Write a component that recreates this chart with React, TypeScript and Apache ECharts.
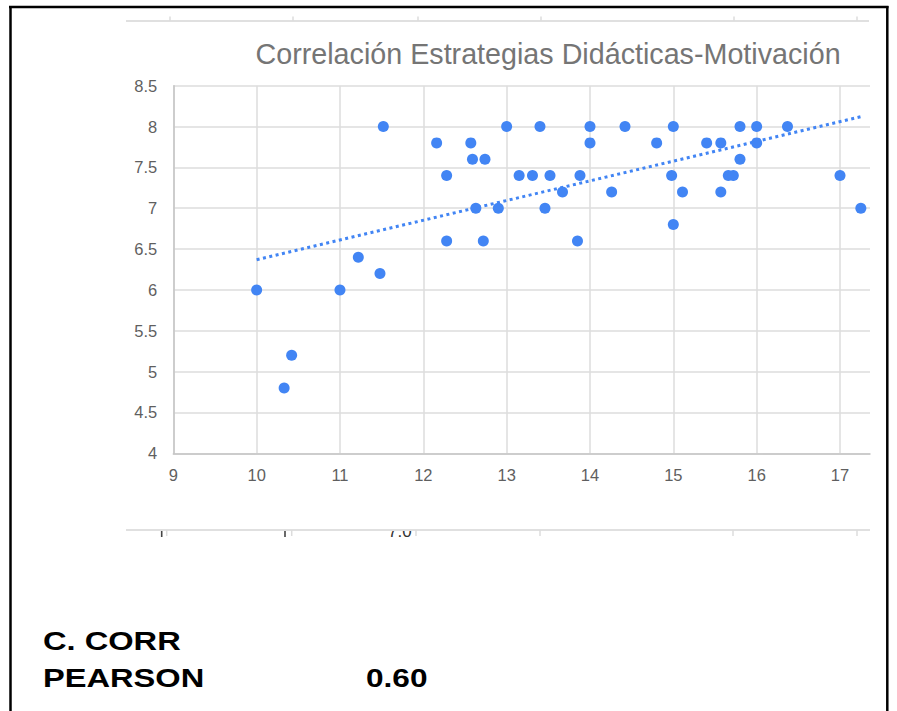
import React, { useEffect, useRef } from "react";
import * as echarts from "echarts";

// Data
const estrategias: number[] = [
  10, 10.33, 10.42, 11, 11.22, 11.48, 11.52, 12.16, 12.28, 12.28,
  12.57, 12.59, 12.63, 12.74, 12.72, 12.9, 13.0, 13.15, 13.31, 13.4,
  13.46, 13.52, 13.67, 13.85, 13.88, 14, 14, 14.26, 14.42, 14.8,
  14.98, 15, 15, 15.11, 15.4, 15.57, 15.57, 15.66, 15.72, 15.8,
  15.8, 16, 16, 16.37, 17, 17.25,
];
const motivacion: number[] = [
  6, 4.8, 5.2, 6, 6.4, 6.2, 8, 7.8, 7.4, 6.6,
  7.8, 7.6, 7.0, 7.6, 6.6, 7.0, 8, 7.4, 7.4, 8,
  7.0, 7.4, 7.2, 6.6, 7.4, 8, 7.8, 7.2, 8, 7.8,
  7.4, 8, 6.8, 7.2, 7.8, 7.8, 7.2, 7.4, 7.4, 8,
  7.6, 8, 7.8, 8, 7.4, 7.0,
];
// Trendline endpoints as drawn in the reference
const trendX: number[] = [10, 17.25];
const trendY: number[] = [6.37, 8.12];

const titleText = "Correlación Estrategias Didácticas-Motivación";
const corrLabel1 = "C. CORR";
const corrLabel2 = "PEARSON";
const corrValue = "0.60";

const FONT = '"Liberation Sans", Arial, sans-serif';

export default function App() {
  const ref = useRef<HTMLDivElement>(null);
  useEffect(() => {
    if (!ref.current) return;
    const chart = echarts.init(ref.current, undefined, { renderer: "svg" });
    const points = estrategias.map((x, i) => [x, motivacion[i]]);
    const trend = trendX.map((x, i) => [x, trendY[i]]);

    const topTicks = [170, 293, 418, 541, 734, 857];
    const bottomTicks = [166.7, 291.7, 416, 540, 733, 857];

    const graphics: any[] = [
      // title
      {
        type: "text",
        x: 255.5,
        y: 53.5,
        style: {
          text: titleText,
          font: `28.7px ${FONT}`,
          fill: "#757575",
          verticalAlign: "middle",
          align: "left",
        },
      },
      // cut-off fragments below
      {
        type: "text",
        x: 388,
        y: 531,
        style: { text: "7.0", font: `17px ${FONT}`, fill: "#333", verticalAlign: "middle", align: "left" },
        z: 1,
      },
      { type: "line", shape: { x1: 161.7, y1: 531, x2: 161.7, y2: 537 }, style: { stroke: "#444", lineWidth: 1.6 }, z: 1 },
      { type: "line", shape: { x1: 285, y1: 531, x2: 285, y2: 537 }, style: { stroke: "#444", lineWidth: 1.6 }, z: 1 },
      { type: "rect", shape: { x: 120, y: 500, width: 760, height: 30.5 }, style: { fill: "#fff" }, z: 2 },
      { type: "line", shape: { x1: 126, y1: 530, x2: 870, y2: 530 }, style: { stroke: "#e0e0e0", lineWidth: 2 }, z: 3 },
      ...bottomTicks.map((x) => ({
        type: "line",
        shape: { x1: x, y1: 530, x2: x, y2: 536 },
        style: { stroke: "#dcdcdc", lineWidth: 1.5 },
        z: 3,
      })),
      // cut-off line at top
      { type: "line", shape: { x1: 126, y1: 21, x2: 869, y2: 21 }, style: { stroke: "#e0e0e0", lineWidth: 2 } },
      ...topTicks.map((x) => ({
        type: "line",
        shape: { x1: x, y1: 16.5, x2: x, y2: 21 },
        style: { stroke: "#dcdcdc", lineWidth: 1.5 },
      })),
      // black frame
      { type: "line", shape: { x1: 9, y1: 7, x2: 888.5, y2: 7 }, style: { stroke: "#000", lineWidth: 2.5 } },
      { type: "line", shape: { x1: 10.5, y1: 6, x2: 10.5, y2: 711 }, style: { stroke: "#000", lineWidth: 2.5 } },
      { type: "line", shape: { x1: 887.3, y1: 6, x2: 887.3, y2: 711 }, style: { stroke: "#000", lineWidth: 2.5 } },
      // correlation text
      {
        type: "text",
        x: 43,
        y: 640.5,
        scaleX: 1.28,
        style: { text: corrLabel1, font: `bold 25.5px ${FONT}`, fill: "#000", verticalAlign: "middle", align: "left" },
      },
      {
        type: "text",
        x: 43,
        y: 678,
        scaleX: 1.28,
        style: { text: corrLabel2, font: `bold 25.5px ${FONT}`, fill: "#000", verticalAlign: "middle", align: "left" },
      },
      {
        type: "text",
        x: 366,
        y: 678,
        scaleX: 1.24,
        style: { text: corrValue, font: `bold 25.5px ${FONT}`, fill: "#000", verticalAlign: "middle", align: "left" },
      },
    ];

    chart.setOption({
      animation: false,
      backgroundColor: "#ffffff",
      grid: { left: 173.3, right: 27, top: 85.7, bottom: 257.7, containLabel: false },
      xAxis: {
        type: "value",
        min: 9,
        max: 17.36,
        interval: 1,
        axisLine: { show: true, lineStyle: { color: "#c4c4c4", width: 1.5 } },
        axisTick: { show: false },
        axisLabel: {
          color: "#5f5f5f",
          fontSize: 16.5,
          fontFamily: FONT,
          margin: 13,
          showMaxLabel: false,
        },
        splitLine: { show: true, showMaxLine: false, lineStyle: { color: "#dddddd", width: 1.5 } },
      },
      yAxis: {
        type: "value",
        min: 4,
        max: 8.5,
        interval: 0.5,
        axisLine: { show: true, lineStyle: { color: "#c4c4c4", width: 1.5 } },
        axisTick: { show: false },
        axisLabel: { color: "#5f5f5f", fontSize: 16.5, fontFamily: FONT, margin: 16 },
        splitLine: { show: true, lineStyle: { color: "#dddddd", width: 1.5 } },
      },
      graphic: graphics,
      series: [
        {
          type: "line",
          data: trend,
          symbol: "none",
          silent: true,
          lineStyle: { color: "#4285f4", width: 3, type: [3, 3.5] },
          z: 2,
        },
        {
          type: "scatter",
          data: points,
          symbol: "circle",
          symbolSize: 11,
          itemStyle: { color: "#4285f4", opacity: 1 },
          z: 3,
        },
      ],
    });
    return () => chart.dispose();
  }, []);

  return (
    <div
      ref={ref}
      style={{ position: "absolute", left: 0, top: 0, width: 897, height: 711, background: "#fff" }}
    />
  );
}
